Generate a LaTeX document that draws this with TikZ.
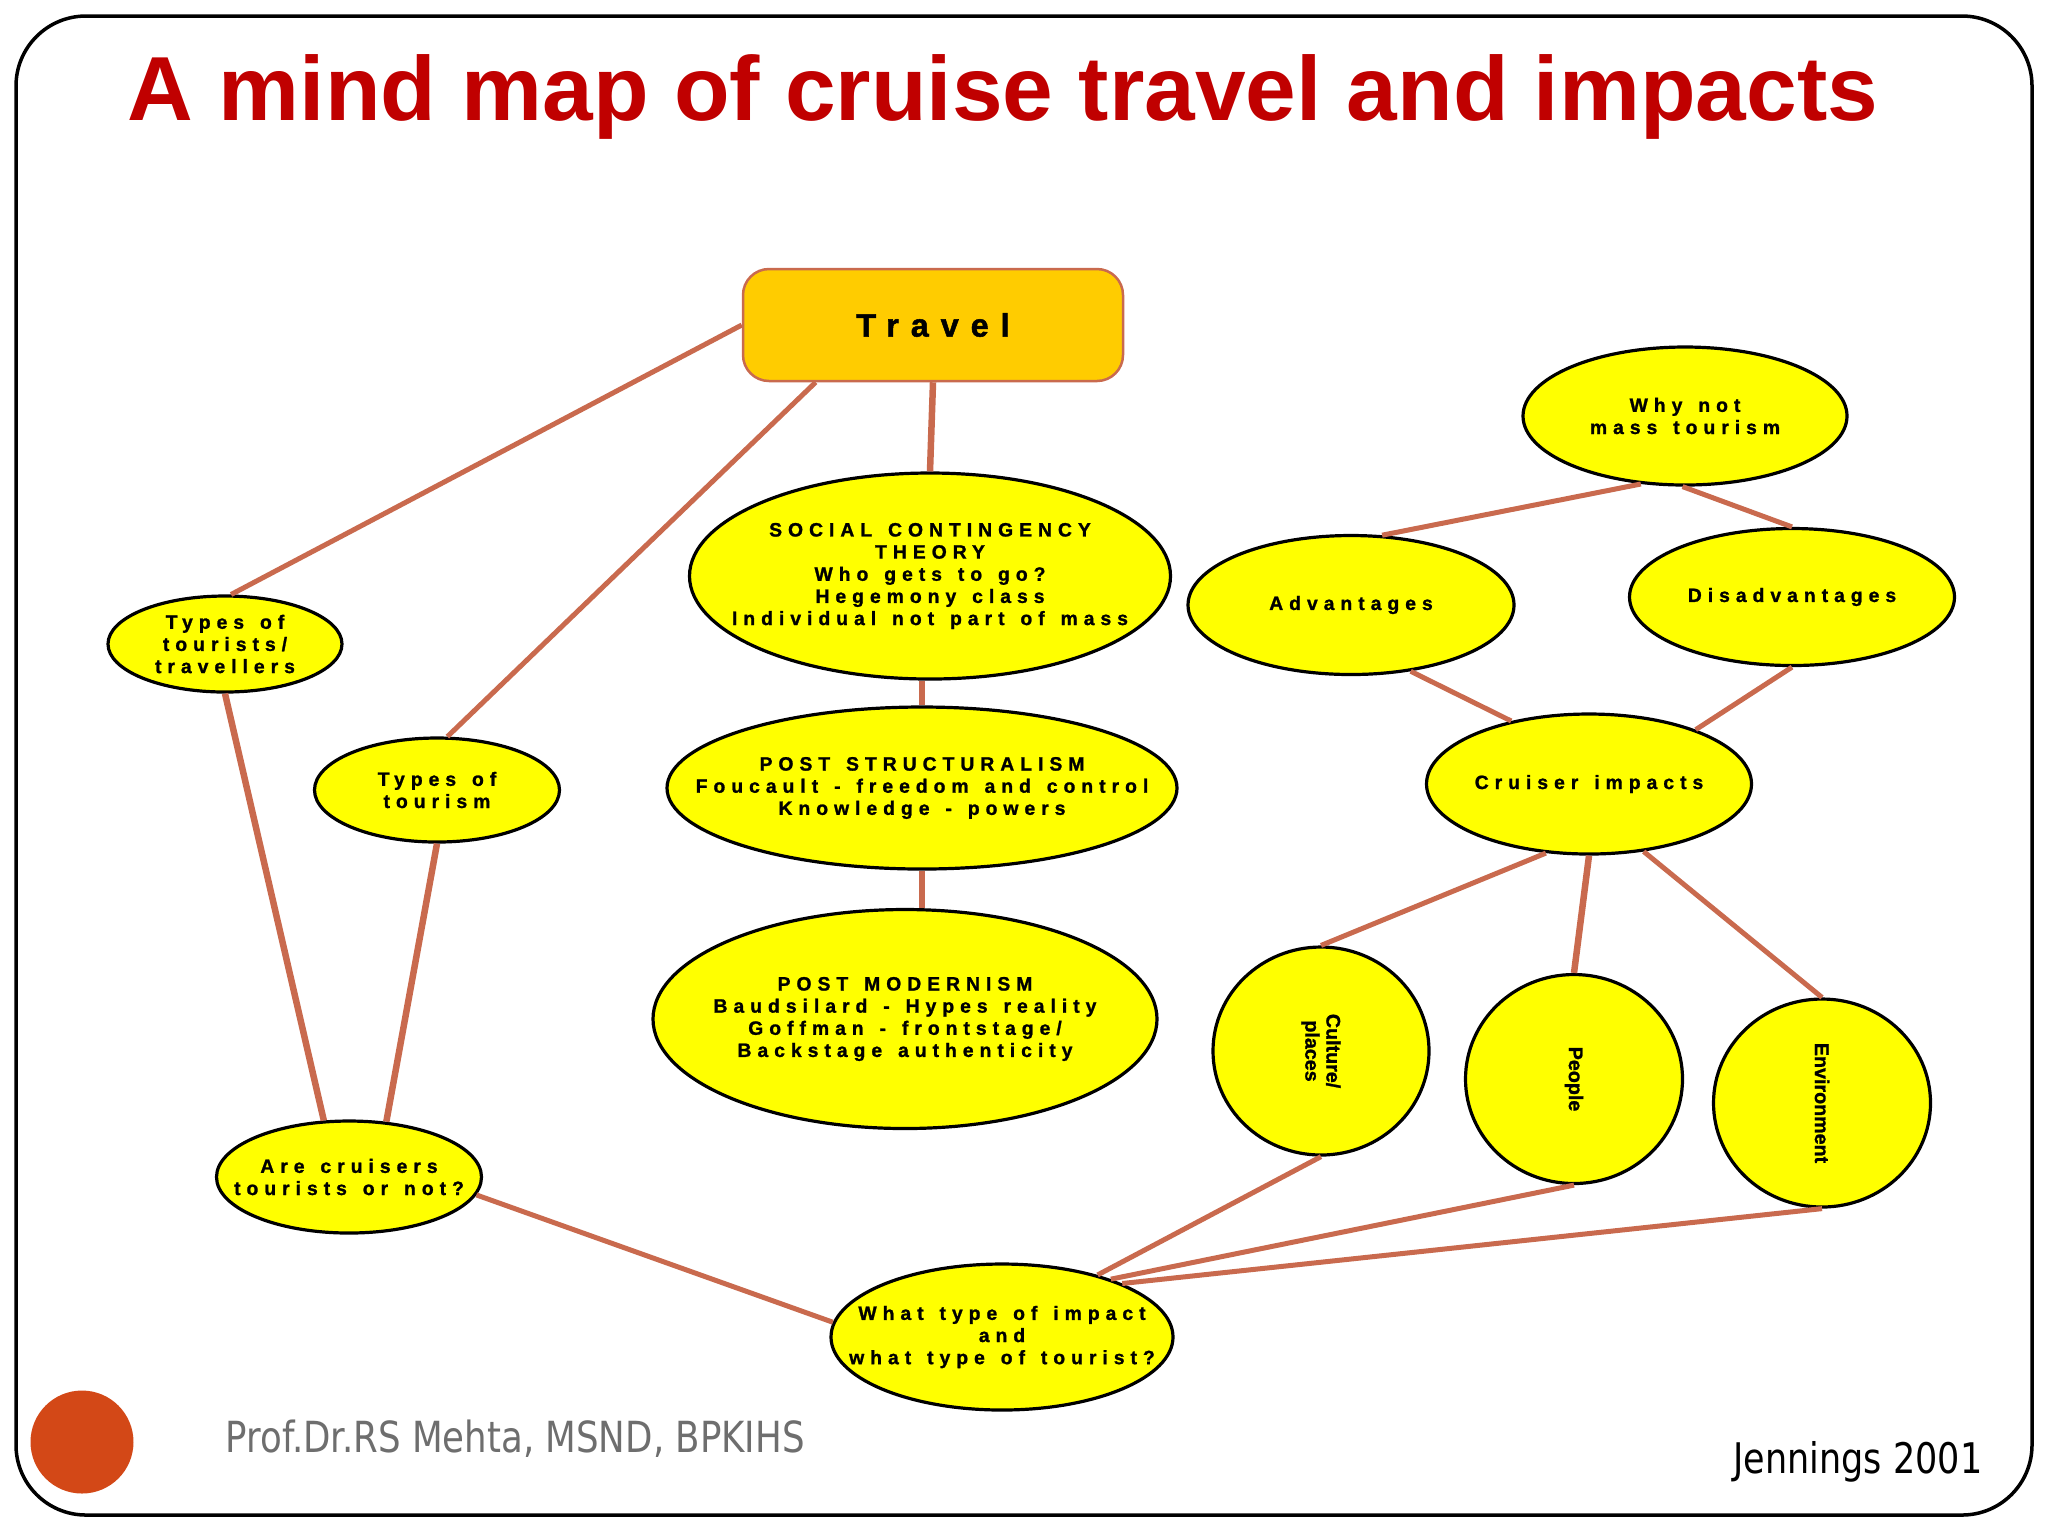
\documentclass[tikz,border=0pt]{standalone}
\usepackage{fontspec}
\setmainfont{Liberation Sans}
\newfontfamily\spacedfont[LetterSpace=31, WordSpace=1.4, FakeBold=1.2]{Liberation Sans Bold}
\newfontfamily\travelfont[LetterSpace=37, FakeBold=1.5]{Liberation Sans Bold}
\newfontfamily\plainbold[FakeBold=1.2]{Liberation Sans Bold}
\newfontfamily\footfont[FakeStretch=0.83]{DejaVu Sans}
\usetikzlibrary{shapes.geometric}
\definecolor{ctitle}{RGB}{192, 0, 0}
\definecolor{cgold}{RGB}{255, 204, 0}
\definecolor{cyel}{RGB}{255, 255, 0}
\definecolor{clink}{RGB}{201, 106, 78}
\definecolor{cdot}{RGB}{211, 72, 23}
\definecolor{cfoot}{RGB}{110, 110, 110}
\tikzset{
  travelbox/.style={draw=clink, line width=0.25mm, fill=cgold, rounded corners=2.6mm,
              minimum width=38mm, minimum height=11.2mm,
              font=\travelfont\bfseries\fontsize{9.2}{11}\selectfont},
  bub/.style={ellipse, draw=black, line width=0.32mm, fill=cyel, inner sep=0pt},
  txt/.style={font=\spacedfont\bfseries\fontsize{5.5}{6.3}\selectfont, align=center, inner sep=0pt},
  vtxt/.style={font=\plainbold\bfseries\fontsize{5.6}{6}\selectfont, align=center, inner sep=0pt, rotate=-90},
  conn/.style={draw=clink, line width=0.5mm},
  trunk/.style={line width=0.65mm},
}

\begin{document}
\begin{tikzpicture}[x=0.1mm, y=-0.1mm]
\useasboundingbox (0,0) rectangle (2048,1536);
\draw[line width=0.35mm, rounded corners=7mm] (16,16) rectangle (2032,1515);

% ---------- title ----------
\node[font=\bfseries\fontsize{25.9}{30}\selectfont, text=ctitle, anchor=base, inner sep=0pt] (title)
  at (1003,120) {A mind map of cruise travel and impacts};

% ---------- centre: travel and theories ----------
\node[travelbox] (travel) at (933,325) {Travel};

\node[bub, minimum width=48.1mm, minimum height=20.6mm,
  label={[txt]center:{SOCIAL CONTINGENCY\\THEORY\\Who gets to go?\\Hegemony class\\Individual not part of mass}}] (sct) at (930,576) {};
\node[bub, minimum width=51mm, minimum height=16.2mm,
  label={[txt]center:{POST STRUCTURALISM\\Foucault - freedom and control\\Knowledge - powers}}] (ps) at (922,788) {};
\node[bub, minimum width=50.4mm, minimum height=21.9mm,
  label={[txt]center:{POST MODERNISM\\Baudsilard - Hypes reality\\Goffman - frontstage/\\Backstage authenticity}}] (pm) at (905,1019) {};

% ---------- left: tourist types ----------
\node[bub, minimum width=23.4mm, minimum height=9.6mm,
  label={[txt]center:{Types of\\tourists/\\travellers}}] (tourists) at (225,644) {};
\node[bub, minimum width=24.5mm, minimum height=10.4mm,
  label={[txt]center:{Types of\\tourism}}] (tourism) at (437,790) {};
\node[bub, minimum width=26.5mm, minimum height=11.2mm,
  label={[txt]center:{Are cruisers\\tourists or not?}}] (cruisers) at (349,1177) {};
\node[bub, minimum width=34.2mm, minimum height=14.6mm,
  label={[txt]center:{What type of impact\\and\\what type of tourist?}}] (whattype) at (1002,1337) {};

% ---------- right: impacts ----------
\node[bub, minimum width=32.4mm, minimum height=13.8mm,
  label={[txt]center:{Why not\\mass tourism}}] (whynot) at (1685,416) {};
\node[bub, minimum width=32.6mm, minimum height=13.9mm,
  label={[txt]center:Advantages}] (adv) at (1351,605) {};
\node[bub, minimum width=32.5mm, minimum height=13.7mm,
  label={[txt]center:Disadvantages}] (disadv) at (1792,597) {};
\node[bub, minimum width=32.5mm, minimum height=14mm,
  label={[txt]center:{Cruiser impacts}}] (impacts) at (1589,784) {};
\node[bub, minimum width=21.6mm, minimum height=20.8mm,
  label={[vtxt]center:{Culture/\\places}}] (culture) at (1321,1051) {};
\node[bub, minimum width=21.7mm, minimum height=20.9mm,
  label={[vtxt]center:People}] (people) at (1574,1079) {};
\node[bub, minimum width=21.7mm, minimum height=20.8mm,
  label={[vtxt]center:Environment}] (environ) at (1822,1103) {};

% ---------- links ----------
\draw[conn] (travel.west) -- (tourists.83);
\draw[conn] (travel.206) -- (tourism.79);
\draw[conn, trunk] (travel.south) -- (sct.north);
\draw[conn, trunk] (ps.north |- sct.south) -- (ps.north);
\draw[conn, trunk] (ps.south) -- (ps.south |- pm.north);
\draw[conn, trunk] (tourists.south) -- (cruisers.114);
\draw[conn, trunk] (tourism.south) -- (cruisers.56);
\draw[conn] (cruisers.-8) -- (whattype.175);
\draw[conn] (whattype.33) -- (culture.south);
\draw[conn] (whattype.28) -- (people.south);
\draw[conn] (whattype.24) -- (environ.south);
\draw[conn] (impacts.238) -- (culture.north);
\draw[conn, trunk] (impacts.south) -- (people.north);
\draw[conn] (impacts.309) -- (environ.north);
\draw[conn] (adv.312) -- (impacts.141);
\draw[conn] (disadv.south) -- (impacts.27);
\draw[conn] (whynot.237) -- (adv.66);
\draw[conn] (whynot.268) -- (disadv.north);

% ---------- footer ----------
\node[circle, fill=cdot, minimum size=10.3mm, inner sep=0pt] (dot) at (82,1442) {};
\node[font=\footfont\fontsize{12.2}{14}\selectfont, text=cfoot, anchor=base west, inner sep=0pt] (author)
  at (225,1452) {Prof.Dr.RS Mehta, MSND, BPKIHS};
\node[font=\footfont\fontsize{12}{14}\selectfont, anchor=base east, inner sep=0pt] (source)
  at (1983,1473) {Jennings 2001};

\end{tikzpicture}
\end{document}
